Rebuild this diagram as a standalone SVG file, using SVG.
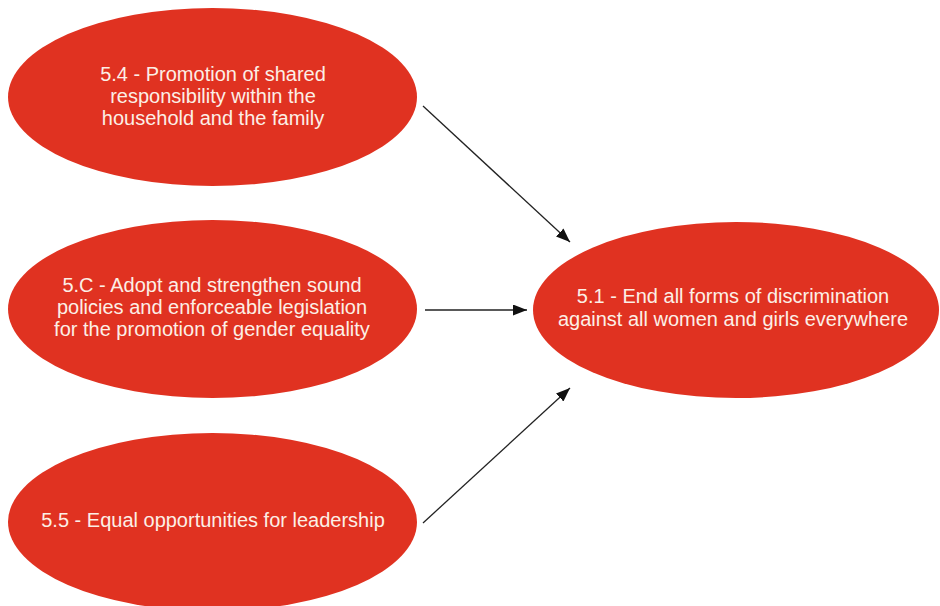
<svg xmlns="http://www.w3.org/2000/svg" width="940" height="606" viewBox="0 0 940 606">
<style>
.node{fill:#e03221;}
.lbl{font-family:"Liberation Sans",Arial,sans-serif;font-size:20px;fill:#fcefe6;text-anchor:middle;}
.edge{stroke:#222;stroke-width:1.3;fill:none;marker-end:url(#arr);}
</style>
<defs>
<marker id="arr" viewBox="0 0 14 11" refX="14" refY="5.5" markerWidth="14" markerHeight="11" markerUnits="userSpaceOnUse" orient="auto">
<path d="M0,0 L14,5.5 L0,11 Z" fill="#111"/>
</marker>
</defs>
<rect width="940" height="606" fill="#fff"/>
<g id="n54">
<ellipse class="node" cx="212.5" cy="97" rx="204.5" ry="89"/>
<text class="lbl" x="213" y="81">5.4 - Promotion of shared</text>
<text class="lbl" x="213" y="103">responsibility within the</text>
<text class="lbl" x="213" y="125">household and the family</text>
</g>
<g id="n5c">
<ellipse class="node" cx="212.5" cy="309" rx="204.5" ry="89"/>
<text class="lbl" x="212" y="292">5.C - Adopt and strengthen sound</text>
<text class="lbl" x="212" y="314">policies and enforceable legislation</text>
<text class="lbl" x="212" y="336">for the promotion of gender equality</text>
</g>
<g id="n55">
<ellipse class="node" cx="212.5" cy="522" rx="204.5" ry="89"/>
<text class="lbl" x="213" y="527">5.5 - Equal opportunities for leadership</text>
</g>
<g id="n51">
<ellipse class="node" cx="736" cy="310" rx="203" ry="88"/>
<text class="lbl" x="733" y="303">5.1 - End all forms of discrimination</text>
<text class="lbl" x="733" y="326">against all women and girls everywhere</text>
</g>
<g id="edges">
<line class="edge" x1="423" y1="106" x2="570" y2="242"/>
<line class="edge" x1="425" y1="310" x2="527" y2="310"/>
<line class="edge" x1="423" y1="523" x2="570" y2="388"/>
</g>
</svg>
